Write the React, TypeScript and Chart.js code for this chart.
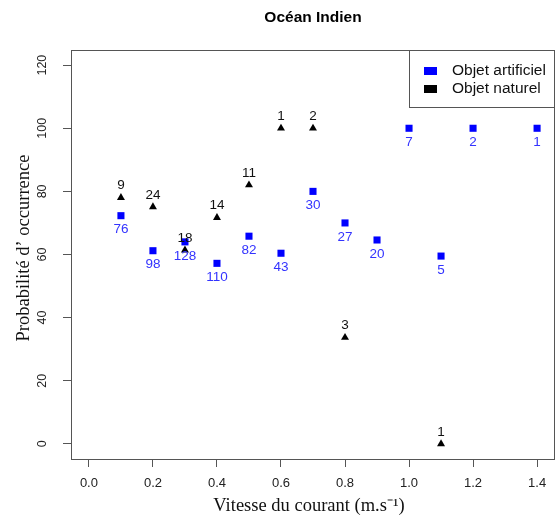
import React, { useEffect, useRef } from "react";
import { Chart, registerables } from "chart.js";

Chart.register(...registerables);

const artX = [0.1, 0.2, 0.3, 0.4, 0.5, 0.6, 0.7, 0.8, 0.9, 1.0, 1.1, 1.2, 1.4];
const artY = [72.3, 61.2, 64.0, 57.2, 65.8, 60.4, 80.0, 70.0, 64.6, 100, 59.5, 100, 100];
const artN = ["76", "98", "128", "110", "82", "43", "30", "27", "20", "7", "5", "2", "1"];

const natX = [0.1, 0.2, 0.3, 0.4, 0.5, 0.6, 0.7, 0.8, 1.1];
const natY = [78.0, 75.1, 61.4, 71.7, 82.0, 100, 100, 33.7, 0];
const natN = ["9", "24", "18", "14", "11", "1", "2", "3", "1"];

const xTicks = [0, 0.2, 0.4, 0.6, 0.8, 1.0, 1.2, 1.4];
const yTicks = [0, 20, 40, 60, 80, 100, 120];

const titleText = "Océan Indien";
const xTitle = "Vitesse du courant (m.s⁻¹)";
const yTitle = "Probabilité d’ occurrence";
const legendLabels = ["Objet artificiel", "Objet naturel"];

const BLUE = "#0000ff";
const BLUE_TXT = "#3333ff";
const SANS = "'Liberation Sans', Arial, sans-serif";
const SERIF = "'Liberation Serif', 'Times New Roman', serif";

export default function App() {
  const ref = useRef<HTMLCanvasElement | null>(null);

  useEffect(() => {
    if (!ref.current) return;

    const overlay = {
      id: "overlay",
      afterDraw(chart: any) {
        const ctx = chart.ctx;
        const a = chart.chartArea;
        const xs = chart.scales.x;
        const ys = chart.scales.y;
        ctx.save();
        // box
        ctx.strokeStyle = "#555";
        ctx.lineWidth = 1;
        ctx.strokeRect(Math.round(a.left) + 0.5, Math.round(a.top) + 0.5, Math.round(a.right - a.left) - 1, Math.round(a.bottom - a.top));

        // title
        ctx.fillStyle = "#000";
        ctx.font = `bold 15.5px ${SANS}`;
        ctx.textAlign = "center";
        ctx.textBaseline = "middle";
        ctx.fillText(titleText, (a.left + a.right) / 2, 18);

        // x tick labels
        ctx.font = `13px ${SANS}`;
        ctx.fillStyle = "#222";
        for (const t of xTicks) {
          ctx.fillText(t.toFixed(1), xs.getPixelForValue(t), 483);
        }
        // y tick labels (rotated)
        ctx.font = `12.5px ${SANS}`;
        for (const t of yTicks) {
          const py = ys.getPixelForValue(t);
          ctx.save();
          ctx.translate(43, py);
          ctx.rotate(-Math.PI / 2);
          ctx.fillText(String(t), 0, 0);
          ctx.restore();
        }
        // axis titles
        ctx.fillStyle = "#111";
        ctx.font = `18.5px ${SERIF}`;
        ctx.fillText(xTitle, (a.left + a.right) / 2 - 4, 506);
        ctx.save();
        ctx.translate(24, 248);
        ctx.rotate(-Math.PI / 2);
        ctx.fillText(yTitle, 0, 0);
        ctx.restore();

        // point labels
        ctx.font = `13.5px ${SANS}`;
        const m0 = chart.getDatasetMeta(0);
        m0.data.forEach((el: any, i: number) => {
          ctx.fillStyle = BLUE_TXT;
          ctx.fillText(artN[i], el.x, el.y + 14);
        });
        const m1 = chart.getDatasetMeta(1);
        m1.data.forEach((el: any, i: number) => {
          ctx.fillStyle = "#111";
          ctx.fillText(natN[i], el.x, el.y - 12);
        });

        // legend
        const lx = 409;
        const lw = a.right - lx;
        ctx.fillStyle = "#fff";
        ctx.fillRect(lx, a.top, lw, 57);
        ctx.strokeStyle = "#555";
        ctx.strokeRect(lx + 0.5, Math.round(a.top) + 0.5, Math.round(lw) - 1, 57);
        const rows = [71, 89];
        const cols = [BLUE, "#000"];
        ctx.font = `15.5px ${SANS}`;
        ctx.textAlign = "left";
        for (let i = 0; i < 2; i++) {
          ctx.fillStyle = cols[i];
          ctx.fillRect(424, rows[i] - 4, 13, 8);
          ctx.fillStyle = "#111";
          ctx.fillText(legendLabels[i], 452, rows[i]);
        }
        ctx.restore();
      },
    };

    const chart = new Chart(ref.current, {
      type: "scatter",
      data: {
        datasets: [
          {
            label: legendLabels[0],
            data: artX.map((x, i) => ({ x, y: artY[i] })),
            pointStyle: "rect",
            radius: 5,
            backgroundColor: BLUE,
            borderColor: BLUE,
            borderWidth: 0,
          },
          {
            label: legendLabels[1],
            data: natX.map((x, i) => ({ x, y: natY[i] })),
            pointStyle: "triangle",
            radius: 4.6,
            backgroundColor: "#000",
            borderColor: "#000",
            borderWidth: 0,
          },
        ],
      },
      options: {
        responsive: false,
        animation: false,
        events: [],
        layout: { autoPadding: false, padding: { top: 50, right: 3, left: 0, bottom: 0 } },
        plugins: {
          legend: { display: false },
          title: { display: false },
          tooltip: { enabled: false },
        },
        scales: {
          x: {
            type: "linear",
            min: -0.056,
            max: 1.456,
            afterBuildTicks: (s: any) => {
              s.ticks = xTicks.map((v) => ({ value: v }));
            },
            afterFit: (s: any) => {
              s.height = 63;
            },
            ticks: { display: false },
            border: { display: false },
            grid: {
              drawOnChartArea: false,
              drawTicks: true,
              tickLength: 8,
              color: "#555",
            },
          },
          y: {
            type: "linear",
            min: -4.8,
            max: 124.8,
            afterBuildTicks: (s: any) => {
              s.ticks = yTicks.map((v) => ({ value: v }));
            },
            afterFit: (s: any) => {
              s.width = 71;
            },
            ticks: { display: false },
            border: { display: false },
            grid: {
              drawOnChartArea: false,
              drawTicks: true,
              tickLength: 8,
              color: "#555",
            },
          },
        },
      },
      plugins: [overlay],
    } as any);

    return () => chart.destroy();
  }, []);

  return (
    <div style={{ position: "absolute", left: 0, top: 0, width: 558, height: 522, background: "#fff" }}>
      <canvas ref={ref} width={558} height={522} style={{ display: "block" }} />
    </div>
  );
}
